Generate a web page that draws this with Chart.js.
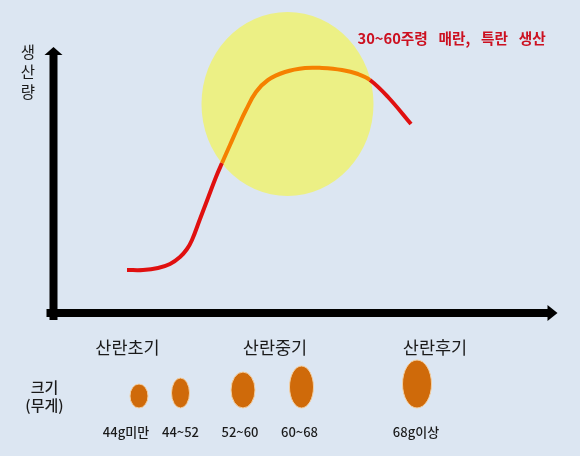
<!DOCTYPE html>
<html><head><meta charset="utf-8">
<style>html,body{margin:0;padding:0;background:#dce6f2}canvas{display:block}</style>
<script src="https://cdn.jsdelivr.net/npm/chart.js@4"></script></head>
<body><div style="width:580px;height:456px"><canvas id="c"></canvas></div>
<script>
// Units: x and y are distances from the chart origin (axis crossing).
const curveX = [73.5,89.5,104.5,116.5,126.5,133.5,138.5,146.5,154.5,162.5,168.5,176.5,184.5,192.5,202.5,214.5,231.5,251.5,268.5,288.5,304.5,316.5,334.5,357.5];
const curveY = [44,44,46,50,57,65,74,95,116,137,151,169,187,204,222,234,242,246,246,244,240,234,217,190];
const highlight = {x:234, y:210, rx:86, ry:92};
const eggX = [85.5,127,189.5,248,363.5];
const eggY = [-82,-79,-76,-73,-70];
const eggRx = [9,9,12,12,14.5];
const eggRy = [12,15,18,21,24];
const eggLabels = ['44g미만','44~52','52~60','60~68','68g이상'];
const eggLabelX = [72.5,127,186.5,246,362.5];
const stageLabels = ['산란초기','산란중기','산란후기'];
const stageX = [74,221.5,381.5];
const xAxisLine = [{x:-7,y:1},{x:495,y:1}];
const yAxisLine = [{x:0,y:-6},{x:0,y:259}];
const ORIGIN = {x:53.5, y:314};

const scenePlugin = {
  id:'scene',
  beforeDatasetsDraw(chart){
    const {ctx, scales:{x,y}} = chart;
    const sx = (x.getPixelForValue(1)-x.getPixelForValue(0));
    const sy = (y.getPixelForValue(0)-y.getPixelForValue(1));
    ctx.save();
    ctx.fillStyle='#ecf085';
    ctx.beginPath();
    ctx.ellipse(x.getPixelForValue(highlight.x),y.getPixelForValue(highlight.y),highlight.rx*sx,highlight.ry*sy,0,0,Math.PI*2);
    ctx.fill();
    eggX.forEach((v,i)=>{
      ctx.beginPath();
      ctx.ellipse(x.getPixelForValue(v),y.getPixelForValue(eggY[i]),eggRx[i]*sx,eggRy[i]*sy,0,0,Math.PI*2);
      ctx.fillStyle='#cf6a0a';ctx.strokeStyle='#f3cfa2';ctx.lineWidth=1;
      ctx.fill();ctx.stroke();
    });
    ctx.restore();
  },
  afterDatasetsDraw(chart){
    const {ctx, scales:{x,y}} = chart;
    const px=v=>x.getPixelForValue(v), py=v=>y.getPixelForValue(v);
    ctx.save();
    ctx.fillStyle='#000';
    ctx.beginPath();ctx.moveTo(px(0),py(267));ctx.lineTo(px(-9),py(259));ctx.lineTo(px(9),py(259));ctx.closePath();ctx.fill();
    ctx.beginPath();ctx.moveTo(px(504),py(1));ctx.lineTo(px(494),py(9));ctx.lineTo(px(494),py(-7));ctx.closePath();ctx.fill();
    ctx.textAlign='center';ctx.textBaseline='middle';
    const F='"Noto Sans CJK KR","Noto Sans",sans-serif';
    ctx.fillStyle='#1a1a1a';
    ctx.font='17.5px '+F;
    stageLabels.forEach((t,i)=>ctx.fillText(t,px(stageX[i]),py(-33)));
    ctx.font='15.5px '+F;
    ['생','산','량'].forEach((t,i)=>ctx.fillText(t,px(-25.5),py(262-i*20)));
    ctx.font='500 15px '+F;
    ctx.fillText('크기',px(-9),py(-73));
    ctx.fillText('(무게)',px(-9),py(-91));
    ctx.font='500 13px '+F;
    eggLabels.forEach((t,i)=>ctx.fillText(t,px(eggLabelX[i]),py(-118.5)));
    ctx.fillStyle='#cc1020';
    ctx.font='700 14.7px '+F;
    ctx.textAlign='left';
    ctx.wordSpacing='2px';
    ctx.fillText('30~60주령  매란,  특란  생산',px(304),py(276));
    ctx.restore();
  }
};

new Chart(document.getElementById('c'),{
  type:'line',
  data:{datasets:[
    {data:curveX.map((v,i)=>({x:v,y:curveY[i]})),borderColor:'#e01010',borderWidth:4,pointRadius:0,tension:0.4,borderCapStyle:'butt',
     segment:{borderColor:c=>(c.p0DataIndex>=10&&c.p1DataIndex<=21)?'#f58000':'#e01010'}},
    {data:xAxisLine,borderColor:'#000',borderWidth:8,pointRadius:0},
    {data:yAxisLine,borderColor:'#000',borderWidth:8,pointRadius:0}
  ]},
  options:{
    responsive:true,maintainAspectRatio:false,animation:false,
    layout:{padding:0},
    plugins:{legend:{display:false},tooltip:{enabled:false}},
    scales:{
      x:{type:'linear',display:false,min:-ORIGIN.x,max:580-ORIGIN.x},
      y:{type:'linear',display:false,min:ORIGIN.y-456,max:ORIGIN.y}
    }
  },
  plugins:[scenePlugin]
});
</script></body></html>
